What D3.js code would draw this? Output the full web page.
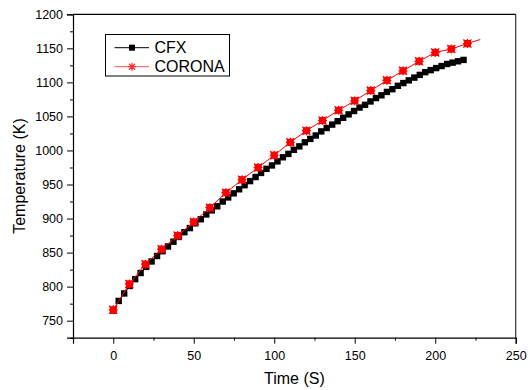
<!DOCTYPE html>
<html>
<head>
<meta charset="utf-8">
<script src="https://cdn.jsdelivr.net/npm/d3@7"></script>
<style>
  html, body { margin: 0; padding: 0; background: #fff; }
  svg { display: block; font-family: Arial, "Liberation Sans", sans-serif; }
</style>
</head>
<body>
<svg id="chart" width="530" height="390"></svg>
<script>
// ---- data ----
const cfxTime = [0, 3.4, 6.8, 10.2, 13.6, 17.0, 20.4, 23.8, 27.2, 30.6, 34.0, 37.4, 40.8, 44.2, 47.6,
  51.0, 54.4, 57.8, 61.2, 64.6, 68.0, 71.4, 74.8, 78.2, 81.6, 85.0, 88.4, 91.8, 95.2, 98.6,
  102.0, 105.4, 108.8, 112.2, 115.6, 119.0, 122.4, 125.8, 129.2, 132.6, 136.0, 139.4, 142.8,
  146.2, 149.6, 153.0, 156.4, 159.8, 163.2, 166.6, 170.0, 173.4, 176.8, 180.2, 183.6, 187.0,
  190.4, 193.8, 197.2, 200.6, 204.0, 207.4, 210.8, 214.2, 217.6];
const cfxTemp = [765, 779, 790, 801, 811, 820, 829, 837, 845, 852, 859, 866, 873, 880, 886,
  893, 899, 906, 912, 918, 925, 931, 937, 943, 949, 955, 961, 967, 973, 978,
  984, 990, 995, 1001, 1006, 1012, 1017, 1022, 1028, 1033, 1038, 1043, 1048,
  1053, 1058, 1063, 1067, 1072, 1077, 1081, 1086, 1090, 1095, 1099, 1103, 1107,
  1111, 1115, 1118, 1121, 1124, 1127, 1129, 1131, 1133];

const coronaTime = [0, 10, 20, 30, 40, 50, 60, 70, 80, 90, 100, 110, 120, 130, 140, 150,
  160, 170, 180, 190, 200, 210, 220];
const coronaTemp = [766, 804, 833, 855, 875, 895, 916, 938, 957, 975, 993, 1012, 1029, 1044,
  1059, 1073, 1088, 1103, 1117, 1131, 1144, 1149, 1157];
// line continues past the last marker
const coronaLineEndTime = [228];
const coronaLineEndTemp = [1163];

const xTicks = [0, 50, 100, 150, 200, 250];
const yTicks = [750, 800, 850, 900, 950, 1000, 1050, 1100, 1150, 1200];
const seriesNames = ["CFX", "CORONA"];

// ---- layout ----
const svg = d3.select("#chart");
const L = 73, R = 515.7, T = 14.3, B = 337.7;
const x = d3.scaleLinear().domain([-25, 250]).range([L, R]);
const y = d3.scaleLinear().domain([725, 1200]).range([B, T]);

// frame (top and right)
svg.append("line").attr("x1", L).attr("x2", R).attr("y1", T).attr("y2", T)
  .attr("stroke", "#000").attr("stroke-width", 1.2);
svg.append("line").attr("x1", R).attr("x2", R).attr("y1", T).attr("y2", B)
  .attr("stroke", "#333").attr("stroke-width", 1.2);

// x axis
const xMinor = d3.range(-25, 251, 25).filter(v => !xTicks.includes(v));
const xAxisMinor = d3.axisBottom(x).tickValues(xMinor).tickSize(3).tickFormat("");
const xAxis = d3.axisBottom(x).tickValues(xTicks).tickSize(6).tickPadding(7).tickFormat(d3.format("d"));
svg.append("g").attr("transform", `translate(0,${B})`).call(xAxisMinor)
  .call(g => g.select(".domain").remove());
const gx = svg.append("g").attr("transform", `translate(0,${B})`).call(xAxis);
gx.selectAll("text").attr("font-size", 12.5).attr("fill", "#000").attr("font-family", "Arial, 'Liberation Sans', sans-serif");

// y axis
const yMinor = d3.range(725, 1201, 25).filter(v => !yTicks.includes(v));
const yAxisMinor = d3.axisLeft(y).tickValues(yMinor).tickSize(3).tickFormat("");
const yAxis = d3.axisLeft(y).tickValues(yTicks).tickSize(6).tickPadding(4).tickFormat(d3.format("d"));
svg.append("g").attr("transform", `translate(${L},0)`).call(yAxisMinor)
  .call(g => g.select(".domain").remove());
const gy = svg.append("g").attr("transform", `translate(${L},0)`).call(yAxis);
gy.selectAll("text").attr("font-size", 12.5).attr("fill", "#000").attr("font-family", "Arial, 'Liberation Sans', sans-serif");
svg.selectAll(".domain").attr("stroke", "#000").attr("stroke-width", 1.2);
svg.selectAll(".tick line").attr("stroke", "#000");

// axis titles
svg.append("text").attr("x", (L + R) / 2).attr("y", 384).attr("text-anchor", "middle")
  .attr("font-size", 16).text("Time (S)");
svg.append("text").attr("transform", `translate(25,${(T + B) / 2}) rotate(-90)`)
  .attr("text-anchor", "middle").attr("font-size", 16).text("Temperature (K)");

// ---- series ----
const line = d3.line().x(d => x(d[0])).y(d => y(d[1]));
const cfxPts = cfxTime.map((t, i) => [t, cfxTemp[i]]);
const coronaPts = coronaTime.map((t, i) => [t, coronaTemp[i]]);
const coronaLinePts = coronaPts.concat(coronaLineEndTime.map((t, i) => [t, coronaLineEndTemp[i]]));

// CFX
svg.append("path").datum(cfxPts).attr("d", line).attr("fill", "none")
  .attr("stroke", "#000").attr("stroke-width", 1);
svg.append("g").selectAll("rect").data(cfxPts).join("rect")
  .attr("x", d => x(d[0]) - 3.2).attr("y", d => y(d[1]) - 3.2)
  .attr("width", 6.4).attr("height", 6.4).attr("fill", "#000");

// CORONA star marker
function starMarker(g, cx, cy, s, color) {
  g.append("rect").attr("x", cx - s * 0.4).attr("y", cy - s * 0.4)
    .attr("width", s * 0.8).attr("height", s * 0.8).attr("fill", color);
  const p = d3.path();
  p.moveTo(cx - s / 2, cy); p.lineTo(cx + s / 2, cy);
  p.moveTo(cx, cy - s / 2); p.lineTo(cx, cy + s / 2);
  p.moveTo(cx - s * 0.45, cy - s * 0.45); p.lineTo(cx + s * 0.45, cy + s * 0.45);
  p.moveTo(cx - s * 0.45, cy + s * 0.45); p.lineTo(cx + s * 0.45, cy - s * 0.45);
  g.append("path").attr("d", p.toString()).attr("stroke", color).attr("stroke-width", 1.2).attr("fill", "none");
}
svg.append("path").datum(coronaLinePts).attr("d", line).attr("fill", "none")
  .attr("stroke", "#ff0000").attr("stroke-width", 1);
const gc = svg.append("g");
coronaPts.forEach(d => starMarker(gc, x(d[0]), y(d[1]), 9, "#ff0000"));

// ---- legend ----
const lg = svg.append("g");
lg.append("rect").attr("x", 105.5).attr("y", 34.5).attr("width", 124).attr("height", 41.5)
  .attr("fill", "#fff").attr("stroke", "#000").attr("stroke-width", 1);
const rows = [47.7, 66.7];
lg.append("line").attr("x1", 114.5).attr("x2", 149).attr("y1", rows[0]).attr("y2", rows[0])
  .attr("stroke", "#000").attr("stroke-width", 1);
lg.append("rect").attr("x", 129).attr("y", rows[0] - 3).attr("width", 6).attr("height", 6).attr("fill", "#000");
lg.append("line").attr("x1", 114.5).attr("x2", 149).attr("y1", rows[1]).attr("y2", rows[1])
  .attr("stroke", "#ff5050").attr("stroke-width", 1);
(function () {
  const p = d3.path(); const cx = 132, cy = rows[1], s = 8;
  p.moveTo(cx - s / 2, cy); p.lineTo(cx + s / 2, cy);
  p.moveTo(cx, cy - s / 2); p.lineTo(cx, cy + s / 2);
  p.moveTo(cx - 3, cy - 3); p.lineTo(cx + 3, cy + 3);
  p.moveTo(cx - 3, cy + 3); p.lineTo(cx + 3, cy - 3);
  lg.append("path").attr("d", p.toString()).attr("stroke", "#ff3030").attr("stroke-width", 1.3);
})();
seriesNames.forEach((n, i) => {
  lg.append("text").attr("x", 154.5).attr("y", rows[i] + 5.6).attr("font-size", 16).text(n);
});
</script>
</body>
</html>
